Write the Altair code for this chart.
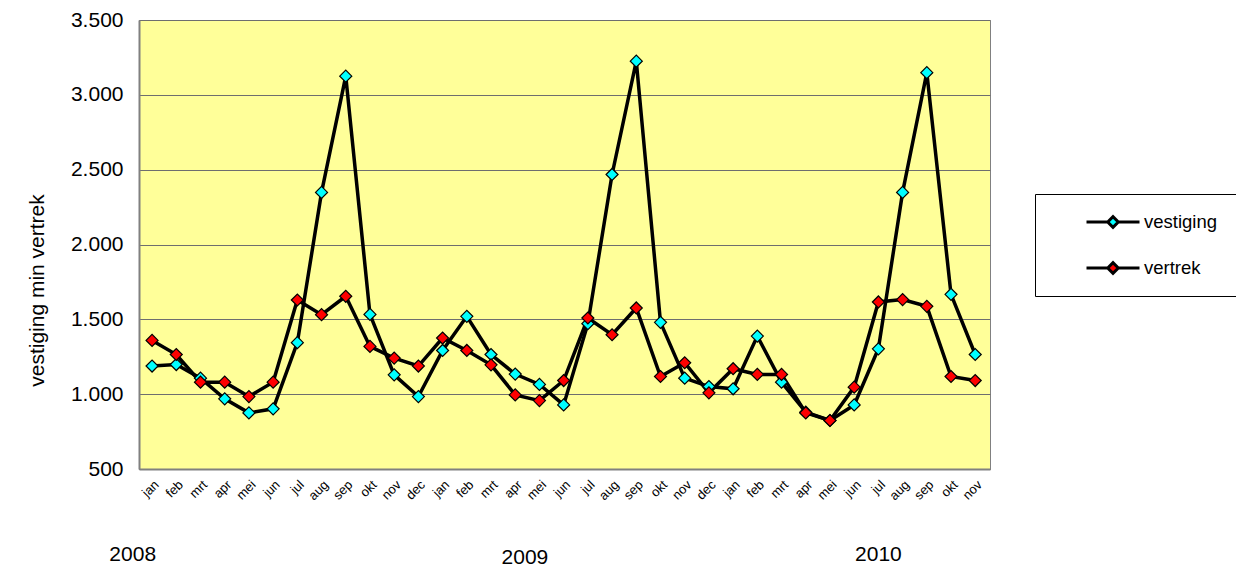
import altair as alt
import pandas as pd

months = ["jan", "feb", "mrt", "apr", "mei", "jun", "jul", "aug", "sep", "okt", "nov", "dec"]
month_labels = months * 2 + months[:11]  # jan 2008 .. nov 2010

vestiging = [1188, 1198, 1107, 969, 875, 902, 1344, 2348, 3125, 1533,
             1129, 984, 1292, 1520, 1265, 1134, 1065, 928,
             1471, 2468, 3225, 1480, 1107, 1051, 1036, 1388, 1080, 880,
             824, 928, 1303, 2348, 3148, 1667, 1265]
vertrek = [1359, 1265, 1080, 1080, 984, 1080, 1629, 1531, 1654, 1319,
           1241, 1188, 1375, 1292, 1196, 995, 957, 1091,
           1509, 1397, 1576, 1118, 1210, 1009, 1170, 1132, 1132, 875,
           824, 1047, 1616, 1632, 1587, 1118, 1091]

series_names = ["vestiging", "vertrek"]
series_colors = ["#00FFFF", "#FF0000"]

years = ["2008", "2009", "2010"]
year_pos = [-0.8, 15.4, 30.0]

rows = []
for name, vals in zip(series_names, [vestiging, vertrek]):
    for i, v in enumerate(vals):
        rows.append({"idx": i, "maand": month_labels[i], "series": name, "waarde": v})
df = pd.DataFrame(rows)
ydf = pd.DataFrame({"jaar": years, "idx": year_pos})

FONT = "Liberation Sans"
label_arr = "[" + ",".join("'%s'" % m for m in month_labels) + "]"

xscale = alt.Scale(domain=[-0.54, 34.61], nice=False, zero=False)
yscale = alt.Scale(domain=[500, 3500], nice=False, zero=False)

x_axis = alt.Axis(values=list(range(35)), labelExpr=label_arr + "[round(datum.value)]",
                  labelAngle=-45, labelAlign="right", labelBaseline="top",
                  labelPadding=9, labelFontSize=13, labelFont=FONT, labelColor="#000000",
                  ticks=False, grid=False, domainColor="#808080", domainWidth=2,
                  labelOverlap=False, labelBound=False, labelFlush=False)
x_enc = alt.X("idx:Q", scale=xscale, title=None, axis=x_axis)

y_enc = alt.Y(
    "waarde:Q", scale=yscale, title="vestiging min vertrek",
    axis=alt.Axis(values=[500, 1000, 1500, 2000, 2500, 3000, 3500],
                  labelExpr="replace(format(datum.value, ','), ',', '.')",
                  labelFontSize=21, labelFont=FONT, labelColor="#000000", labelPadding=16,
                  ticks=False, grid=True, gridColor="#6E6E6E", gridWidth=1,
                  domainColor="#808080", domainWidth=2,
                  titleFont=FONT, titleFontSize=21, titleFontWeight="normal",
                  titleColor="#000000", titleX=-96, titleY=270, titleBaseline="alphabetic"),
)

lines = alt.Chart(df).mark_line(color="#000000", strokeWidth=3.5).encode(
    x=x_enc, y=y_enc, detail="series:N",
    order="idx:Q",
)

sym_path = "M-1,0H-0.2M0.2,0H1M-0.2,0L0,-0.2L0.2,0L0,0.2Z"

points = alt.Chart(df).mark_point(
    shape="diamond", size=144, filled=True, stroke="#000000", strokeWidth=1.2, opacity=1
).encode(
    x=x_enc, y=y_enc,
    fill=alt.Fill("series:N", sort=series_names,
                  scale=alt.Scale(domain=series_names, range=series_colors),
                  legend=alt.Legend(orient="none", legendX=896, legendY=174, title=None,
                                    symbolType=sym_path, symbolSize=2809,
                                    symbolStrokeColor="#000000", symbolStrokeWidth=3,
                                    symbolOffset=32, labelOffset=3,
                                    labelFont=FONT, labelFontSize=18.5, labelColor="#000000",
                                    padding=18, clipHeight=20, rowPadding=26,
                                    strokeColor="#000000", fillColor="#FFFFFF",
                                    symbolOpacity=1)),
)

yr_a = alt.Chart(ydf).transform_filter("datum.jaar != '2009'").mark_text(
    font=FONT, fontSize=21, color="#000000", align="center", baseline="alphabetic"
).encode(x=x_enc, y=alt.value(541), text="jaar:N")
yr_b = alt.Chart(ydf).transform_filter("datum.jaar == '2009'").mark_text(
    font=FONT, fontSize=21, color="#000000", align="center", baseline="alphabetic"
).encode(x=x_enc, y=alt.value(544), text="jaar:N")

chart = alt.layer(lines, points, yr_a, yr_b).properties(
    width=851, height=449,
    autosize=alt.AutoSizeParams(type="none"),
    padding={"left": 131, "top": 12, "right": 246, "bottom": 100},
    background="#FFFFFF",
).configure_view(
    fill="#FFFF99", stroke="#808080", strokeWidth=1
)

chart.save("out.html", embed_options={"renderer": "svg", "actions": False})
